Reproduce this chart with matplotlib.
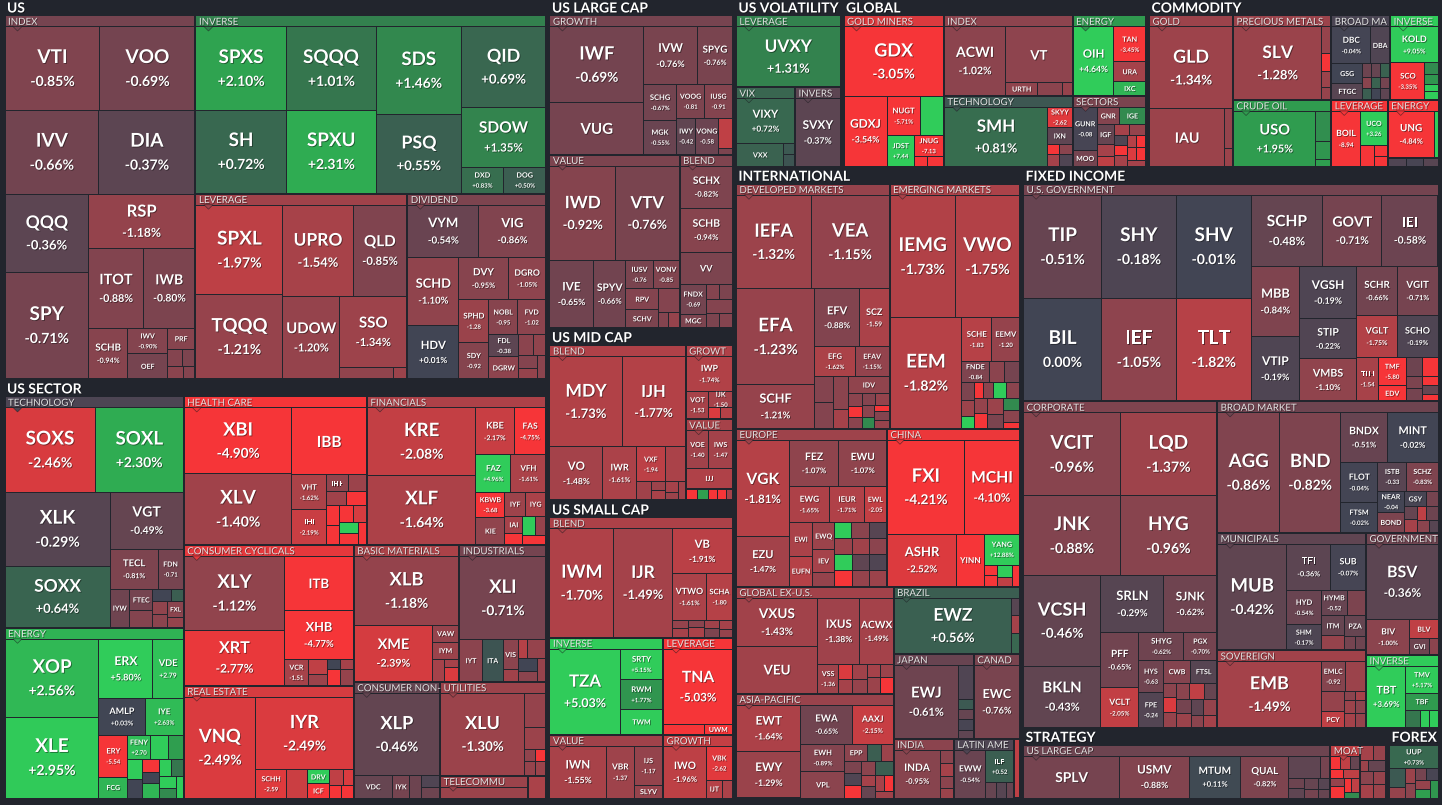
import math
import matplotlib
matplotlib.use("Agg")
import matplotlib.pyplot as plt
from matplotlib.patches import Rectangle, Polygon
import matplotlib.patheffects as pe

# (ticker, size, % change) -- size (k px^2)
US_INDEX = [("VTI", 7.9, -0.85), ("VOO", 7.9, -0.69), ("IVV", 7.9, -0.66), ("DIA", 8.1, -0.37),
            ("QQQ", 6.5, -0.36), ("SPY", 8.9, -0.71), ("RSP", 5.8, -1.18), ("ITOT", 4.4, -0.88),
            ("IWB", 4.1, -0.80), ("SCHB", 2.0, -0.94), ("IWV", 1.0, -0.90), ("OEF", 1.0, -0.72),
            ("PRF", 0.57, -0.95), ("", 0.25, -0.9), ("", 0.22, -0.8), ("", 0.2, -1.0), ("", 0.15, -0.9)]
US_INVERSE = [("SPXS", 7.5, 2.10), ("SH", 7.5, 0.72), ("SQQQ", 7.5, 1.01), ("SPXU", 7.5, 2.31),
              ("SDS", 7.4, 1.46), ("PSQ", 6.7, 0.55), ("QID", 6.8, 0.69), ("SDOW", 5.1, 1.35),
              ("DXD", 1.1, 0.83), ("DOG", 1.1, 0.50)]
US_LEVERAGE = [("SPXL", 7.8, -1.97), ("TQQQ", 7.3, -1.21), ("UPRO", 6.4, -1.54), ("QLD", 4.9, -0.85),
               ("UDOW", 4.7, -1.20), ("SSO", 4.8, -1.34), ("", 0.6, -1.1), ("", 0.15, -1.3)]
US_DIVIDEND = [("VYM", 3.7, -0.54), ("VIG", 3.5, -0.86), ("SCHD", 3.5, -1.10), ("HDV", 2.7, 0.01),
               ("DVY", 2.1, -0.95), ("DGRO", 1.6, -1.05), ("SPHD", 1.3, -1.28), ("SDY", 1.1, -0.92),
               ("NOBL", 1.0, -0.95), ("FVD", 1.0, -1.02), ("FDL", 0.66, -0.38), ("DGRW", 0.66, -1.05),
               ("", 0.3, -1.0), ("", 0.25, -1.1), ("", 0.25, -0.9), ("", 0.2, -1.2), ("", 0.2, -1.0)]

SECTOR_TECH = [("SOXS", 7.6, -2.46), ("SOXL", 7.4, 2.30), ("XLK", 7.8, -0.29), ("SOXX", 6.4, 0.64),
               ("VGT", 4.2, -0.49), ("TECL", 1.9, -0.81), ("FDN", 1.0, -0.71), ("IYW", 0.75, -0.62),
               ("FTEC", 0.5, -0.70), ("", 0.38, -0.9), ("", 0.23, 0.0), ("", 0.14, 0.5), ("", 0.2, -1.1),
               ("", 0.2, -1.0), ("FXL", 0.25, -1.0), ("", 0.15, -1.2)]
SECTOR_ENERGY = [("XOP", 7.3, 2.56), ("XLE", 7.6, 2.95), ("ERX", 3.2, 5.80), ("VDE", 1.8, 2.79),
                 ("AMLP", 1.7, 0.03), ("IYE", 1.4, 2.63), ("ERY", 1.2, -5.54), ("FCG", 0.6, 2.5),
                 ("FENY", 0.55, 2.70), ("", 0.43, 3.0), ("", 0.36, 2.0), ("", 0.3, 3.0), ("", 0.27, 0.0),
                 ("", 0.23, -3.0), ("", 0.2, 0.0), ("", 0.25, 2.5), ("", 0.2, 3.0), ("", 0.2, 1.0),
                 ("", 0.2, 3.0), ("", 0.15, 1.5), ("", 0.15, 3.0)]
SECTOR_HEALTH = [("XBI", 7.1, -4.90), ("XLV", 7.6, -1.40), ("IBB", 5.0, -4.2), ("VHT", 1.2, -1.62),
                 ("IHI", 1.2, -2.19), ("IHF", 0.36, -1.1), ("", 0.3, -1.3), ("", 0.28, -1.4),
                 ("", 0.28, -3.5), ("", 0.26, -3.2), ("", 0.25, -3.6), ("", 0.25, -3.0), ("", 0.22, -2.4),
                 ("", 0.2, 3.0), ("", 0.2, -3.3), ("", 0.18, -3.8)]
SECTOR_FIN = [("KRE", 7.3, -2.08), ("XLF", 7.5, -1.64), ("KBE", 1.8, -2.17), ("FAS", 1.5, -4.75),
              ("FAZ", 1.3, 4.96), ("VFH", 1.3, -1.61), ("KBWB", 0.75, -3.68), ("KIE", 0.78, -1.10),
              ("IYF", 0.5, -1.35), ("IYG", 0.5, -1.6), ("IAI", 0.3, -1.5), ("", 0.2, -3.0),
              ("", 0.25, 4.0), ("", 0.2, -1.2), ("", 0.2, -3.0)]
SECTOR_CYCL = [("XLY", 7.4, -1.12), ("XRT", 5.5, -2.77), ("ITB", 3.7, -4.3), ("XHB", 3.4, -4.77),
               ("VCR", 0.6, -1.51), ("", 0.3, -2.0), ("", 0.2, -1.3), ("", 0.12, 0.0), ("", 0.12, -1.5),
               ("", 0.2, -3.0), ("", 0.2, -1.2)]
SECTOR_REIT = [("VNQ", 7.2, -2.49), ("IYR", 7.1, -2.49), ("SCHH", 0.87, -2.59), ("", 0.59, -2.2),
               ("DRV", 0.3, 3.0), ("ICF", 0.3, -3.0), ("", 0.22, -2.0), ("", 0.15, -2.5),
               ("", 0.16, -3.0), ("", 0.15, -3.0)]
SECTOR_MATER = [("XLB", 7.2, -1.18), ("XME", 4.4, -2.39), ("VAW", 0.45, -1.2), ("IYM", 0.45, -1.3),
                ("FXZ", 0.27, -1.5), ("", 0.12, -1.5), ("", 0.2, -2.5)]
SECTOR_INDU = [("XLI", 7.2, -0.71), ("IYT", 0.92, -1.0), ("ITA", 0.88, 0.3), ("VIS", 0.43, -1.0),
               ("", 0.18, -1.4), ("", 0.18, -1.8), ("", 0.34, -1.2), ("", 0.24, 0.0), ("", 0.2, -1.0),
               ("", 0.2, -1.2)]
SECTOR_STAPLES = [("XLP", 7.0, -0.46), ("VDC", 0.84, -0.5), ("IYK", 0.4, -0.7), ("", 0.26, -0.6),
                  ("", 0.22, -0.2), ("", 0.18, -0.6)]
SECTOR_UTIL = [("XLU", 6.9, -1.30), ("", 0.75, -1.2), ("", 0.46, -1.3), ("", 0.14, -1.1),
               ("", 0.14, -3.0), ("", 0.15, -1.2), ("", 0.14, -1.3)]
SECTOR_TELECOM = [("", 0.5, -1.3)]
SECTOR_OTHER = [("", 0.38, -1.6)]

LC_GROWTH = [("IWF", 7.1, -0.69), ("VUG", 4.8, -0.72), ("IVW", 3.1, -0.76), ("SPYG", 2.0, -0.76),
             ("SCHG", 1.2, -0.67), ("MGK", 1.1, -0.55), ("VOOG", 0.95, -0.81), ("IUSG", 0.95, -0.91),
             ("IWY", 0.68, -0.42), ("VONG", 0.8, -0.58), ("RPG", 0.43, -2.0), ("", 0.08, -0.8)]
LC_VALUE = [("IWD", 6.2, -0.92), ("VTV", 6.0, -0.76), ("IVE", 2.9, -0.65), ("SPYV", 2.2, -0.66),
            ("IUSV", 0.76, -0.76), ("VONV", 0.73, -0.85), ("RPV", 0.7, -0.9), ("SCHV", 0.58, -0.8),
            ("", 0.5, -0.9), ("", 0.15, -0.9), ("", 0.15, -1.2)]
LC_BLEND = [("SCHX", 2.2, -0.82), ("SCHB", 2.3, -0.94), ("VV", 1.7, -0.8), ("FNDX", 0.78, -0.69),
            ("MGC", 0.36, -0.8), ("", 0.2, -0.9), ("", 0.2, -0.8), ("", 0.36, -0.9), ("", 0.18, -0.8),
            ("", 0.18, -0.9)]

MC_BLEND = [("MDY", 6.5, -1.73), ("IJH", 5.7, -1.77), ("VO", 2.8, -1.48), ("IWR", 1.8, -1.61),
            ("VXF", 1.0, -1.94), ("", 0.7, -1.6), ("", 0.27, -1.4), ("", 0.13, -1.3), ("", 0.13, -1.6),
            ("", 0.13, -1.5), ("", 0.1, -1.3), ("", 0.12, -1.4)]
MC_GROWTH = [("IWP", 1.6, -1.74), ("VOT", 0.62, -1.53), ("IJK", 0.39, -1.5), ("", 0.13, -2.5),
             ("", 0.13, -1.8)]
MC_VALUE = [("VOE", 0.86, -1.40), ("IWS", 0.9, -1.47), ("IJJ", 0.9, -1.7)]
MC_OTHER = [("", 0.12, -3.0), ("", 0.12, 2.0), ("", 0.1, -3.0), ("", 0.1, -3.0), ("", 0.06, -1.5)]

SC_BLEND = [("IWM", 6.9, -1.70), ("IJR", 6.3, -1.49), ("VB", 2.7, -1.91), ("VTWO", 1.6, -1.61),
            ("SCHA", 1.2, -1.80), ("", 0.13, -1.2), ("", 0.14, -1.5), ("", 0.13, -1.0), ("", 0.15, -1.6),
            ("", 0.13, -1.4), ("", 0.12, -0.8), ("", 0.12, -1.5), ("", 0.1, -1.2)]
SC_INVERSE = [("TZA", 6.0, 5.03), ("SRTY", 1.3, 5.15), ("RWM", 1.26, 1.77), ("TWM", 1.05, 4.0)]
SC_VALUE = [("IWN", 2.9, -1.55), ("VBR", 1.46, -1.37), ("IJS", 1.1, -1.17), ("SLYV", 0.36, -1.2)]
SC_LEVERAGE = [("TNA", 5.2, -5.03), ("", 0.4, -3.5), ("UWM", 0.28, -3.0)]
SC_GROWTH = [("IWO", 2.2, -1.96), ("VBK", 0.88, -2.62), ("IJT", 0.29, -1.8), ("", 0.18, -1.6)]

VOL_LEVERAGE = [("UVXY", 6.2, 1.31)]
VOL_VIX = [("VIXY", 2.6, 0.72), ("VXX", 1.08, 0.6), ("", 0.12, 0.4), ("", 0.12, 0.3)]
VOL_INVERSE = [("SVXY", 3.0, -0.37)]

GL_GOLDMINERS = [("GDX", 6.9, -3.05), ("GDXJ", 3.0, -3.54), ("NUGT", 1.3, -5.71), ("", 0.9, 4.0),
                 ("JDST", 0.84, 7.44), ("JNUG", 0.6, -7.13), ("", 0.13, -3.5), ("", 0.16, -4.0)]
GL_INDEX = [("ACWI", 4.2, -1.02), ("VT", 3.7, -1.05), ("URTH", 0.4, -1.1), ("", 0.31, -1.0),
            ("", 0.12, -1.2)]
GL_TECH = [("SMH", 6.1, 0.81), ("SKYY", 0.48, -2.62), ("IXN", 0.43, -0.4), ("", 0.12, -3.0),
           ("", 0.14, -1.5), ("", 0.12, -1.0), ("", 0.14, -0.2)]
GL_ENERGY = [("OIH", 2.8, 4.64), ("TAN", 1.1, -3.45), ("URA", 0.63, -1.5), ("IXC", 0.43, 2.5)]
GL_SECTORS = [("GUNR", 1.05, -0.08), ("MOO", 0.38, -0.7), ("GNR", 0.38, -0.9), ("IGE", 0.45, 1.5),
              ("IGF", 0.34, -0.5), ("", 0.19, -1.5), ("", 0.17, -2.0), ("", 0.17, -1.5), ("", 0.17, -1.2),
              ("", 0.14, -0.2), ("", 0.14, -3.0), ("", 0.14, -1.5), ("", 0.11, -1.8), ("", 0.11, -3.0),
              ("", 0.11, -2.5), ("", 0.11, -3.5), ("", 0.11, -1.5)]

CM_GOLD = [("GLD", 6.8, -1.34), ("IAU", 4.3, -1.3), ("", 0.32, -1.2), ("", 0.14, -1.3)]
CM_PRECIOUS = [("SLV", 6.4, -1.28), ("", 0.24, -1.2), ("", 0.16, -3.0), ("", 0.14, -1.3), ("", 0.11, -1.2)]
CM_CRUDE = [("USO", 4.5, 1.95), ("", 0.45, 1.6), ("", 0.27, 1.8), ("", 0.1, 2.0)]
CM_BROAD = [("DBC", 1.44, -0.04), ("DBA", 0.7, -0.2), ("GSG", 0.6, 0.0), ("FTGC", 0.5, -0.3),
            ("", 0.12, -0.6), ("", 0.12, -0.5), ("", 0.12, 0.6), ("", 0.1, -1.0), ("", 0.1, 0.5),
            ("", 0.1, 0.6), ("", 0.1, -0.7), ("", 0.1, 0.0), ("", 0.1, -0.4)]
CM_INVERSE = [("KOLD", 1.7, 9.05), ("SCO", 1.25, -3.35), ("", 0.15, 1.5), ("", 0.13, 1.8),
              ("", 0.1, 3.0), ("", 0.1, 3.0)]
CM_LEVERAGE = [("BOIL", 1.57, -8.94), ("UCO", 0.92, 3.26), ("", 0.28, -3.0), ("", 0.14, -3.5),
               ("", 0.13, -4.0)]
CM_ENERGY = [("UNG", 2.1, -4.84), ("", 0.18, 3.0)]
CM_OTHER = [("", 0.15, -0.2), ("", 0.13, -0.1), ("", 0.12, -0.3)]

IN_DEVELOPED = [("IEFA", 7.0, -1.32), ("VEA", 7.3, -1.15), ("EFA", 7.5, -1.23), ("SCHF", 3.4, -1.21),
                ("EFV", 2.6, -0.88), ("SCZ", 1.7, -1.59), ("EFG", 1.2, -1.62), ("EFAV", 1.0, -1.15),
                ("", 0.5, -0.9), ("", 0.5, -0.9), ("", 0.5, -1.0), ("", 0.28, -1.5), ("IDV", 0.7, -1.1),
                ("", 0.18, -1.0), ("", 0.15, -3.0), ("", 0.15, -1.0), ("", 0.15, -0.9), ("", 0.15, -1.2),
                ("", 0.15, -1.0), ("", 0.12, 1.5), ("", 0.1, -3.0), ("", 0.12, -0.9), ("", 0.12, -1.2)]
IN_EMERGING = [("IEMG", 8.0, -1.73), ("VWO", 7.9, -1.75), ("EEM", 7.9, -1.82), ("SCHE", 1.3, -1.83),
               ("EEMV", 1.2, -1.20), ("FNDE", 0.6, -0.84), ("", 0.33, -1.0), ("", 0.33, -0.7),
               ("", 0.22, -0.8), ("", 0.2, -1.3), ("", 0.15, 3.0), ("", 0.15, -3.0), ("", 0.15, -1.0),
               ("", 0.22, 3.0), ("", 0.2, -1.0), ("", 0.2, -1.2), ("", 0.2, -3.0), ("", 0.25, -1.3),
               ("", 0.22, -0.8), ("", 0.2, 1.5), ("", 0.18, -1.0), ("", 0.1, -3.0)]
IN_EUROPE = [("VGK", 5.1, -1.81), ("EZU", 2.6, -1.47), ("FEZ", 2.3, -1.07), ("EWU", 2.2, -1.07),
             ("EWG", 1.45, -1.65), ("IEUR", 1.25, -1.71), ("EWL", 0.8, -2.05), ("EWI", 0.8, -1.6),
             ("EUFN", 0.72, -1.8), ("EWQ", 0.58, -1.3), ("IEV", 0.48, -1.5), ("", 0.3, -1.2),
             ("", 0.29, 3.0), ("", 0.29, -1.0), ("", 0.28, -0.3), ("", 0.28, -1.3), ("", 0.28, 3.0),
             ("", 0.28, -3.0), ("", 0.28, -1.4), ("", 0.27, -1.0), ("", 0.27, -0.4), ("", 0.27, -1.2),
             ("", 0.27, -0.2), ("", 0.27, -1.3)]
IN_CHINA = [("FXI", 7.2, -4.21), ("MCHI", 5.2, -4.10), ("ASHR", 3.6, -2.52), ("YINN", 1.45, -4.5),
            ("YANG", 1.1, 12.88), ("", 0.14, -3.0), ("", 0.15, -3.5), ("", 0.18, 3.0), ("", 0.13, -2.0),
            ("", 0.15, -3.5)]
IN_GLOBALX = [("VXUS", 3.9, -1.43), ("VEU", 3.8, -1.4), ("IXUS", 2.8, -1.38), ("ACWX", 2.2, -1.49),
              ("VSS", 0.6, -1.36), ("", 0.21, -2.5), ("", 0.18, -1.5), ("", 0.22, -1.4), ("", 0.2, -1.2),
              ("", 0.18, -1.5), ("", 0.16, -1.3), ("", 0.2, -1.3), ("", 0.2, -3.0)]
IN_ASIAPAC = [("EWT", 3.0, -1.64), ("EWY", 3.0, -1.29), ("EWA", 2.0, -0.65), ("AAXJ", 1.6, -2.15),
              ("EWH", 1.2, -0.89), ("VPL", 1.16, -1.0), ("EPP", 0.39, -1.0), ("", 0.24, 0.5),
              ("", 0.2, -1.3), ("", 0.2, -0.8), ("", 0.2, -0.2), ("", 0.2, -4.0), ("", 0.2, -1.0),
              ("", 0.26, 0.5), ("", 0.16, -1.5), ("", 0.16, -0.5), ("", 0.14, -1.5), ("", 0.13, -4.0),
              ("", 0.12, -1.4)]
IN_BRAZIL = [("EWZ", 6.5, 0.56), ("", 0.14, -0.3), ("", 0.14, -1.5), ("", 0.16, 0.7)]
IN_JAPAN = [("EWJ", 4.7, -0.61), ("", 0.5, -0.2), ("", 0.15, 0.4), ("", 0.15, -0.5), ("", 0.15, -0.1),
            ("", 0.12, -0.4)]
IN_CANADA = [("EWC", 3.3, -0.76)]
IN_INDIA = [("INDA", 2.2, -0.95), ("", 0.18, -1.0), ("", 0.16, -1.5), ("", 0.16, -1.0), ("", 0.13, -1.3)]
IN_LATAM = [("EWW", 1.5, -0.54), ("ILF", 0.9, 0.52), ("", 0.16, -0.5), ("", 0.16, -0.3), ("", 0.1, -0.5)]
IN_OTHER = [("", 0.3, -2.0)]

FI_USGOV = [("TIP", 8.0, -0.51), ("BIL", 8.0, 0.00), ("SHY", 7.7, -0.18), ("IEF", 7.7, -1.05),
            ("SHV", 7.7, -0.01), ("TLT", 7.7, -1.82), ("SCHP", 5.1, -0.48), ("GOVT", 4.2, -0.71),
            ("IEI", 4.0, -0.58), ("MBB", 3.4, -0.84), ("VTIP", 3.1, -0.19), ("VGSH", 3.0, -0.19),
            ("STIP", 2.3, -0.22), ("VMBS", 2.4, -1.10), ("SCHR", 2.0, -0.66), ("VGIT", 2.0, -0.71),
            ("VGLT", 1.7, -1.75), ("SCHO", 1.7, -0.19), ("TLH", 0.95, -1.54), ("TMF", 0.78, -5.80),
            ("EDV", 0.42, -3.0), ("", 0.3, -0.6), ("", 0.3, -3.5), ("", 0.2, -0.8), ("", 0.2, -0.7),
            ("", 0.14, -4.0), ("", 0.15, -0.5), ("", 0.1, -3.0)]
FI_CORP = [("VCIT", 8.0, -0.96), ("LQD", 8.0, -1.37), ("JNK", 7.7, -0.88), ("HYG", 7.7, -0.96),
           ("VCSH", 7.0, -0.46), ("BKLN", 4.7, -0.43), ("SRLN", 3.6, -0.29), ("SJNK", 3.0, -0.62),
           ("PFF", 2.1, -0.65), ("VCLT", 1.5, -2.05), ("SHYG", 1.25, -0.62), ("PGX", 0.9, -0.70),
           ("HYS", 0.8, -0.63), ("FPE", 0.85, -0.24), ("CWB", 0.64, -0.9), ("FTSL", 0.6, -0.3),
           ("", 0.2, -1.0), ("", 0.2, -2.5), ("", 0.2, -1.2), ("", 0.2, -1.0), ("", 0.25, -2.0),
           ("", 0.2, -0.5), ("", 0.2, -0.7), ("", 0.2, -1.3), ("", 0.2, -0.4), ("", 0.2, -1.2),
           ("", 0.15, -1.0), ("", 0.15, -1.5)]
FI_BROAD = [("AGG", 7.4, -0.86), ("BND", 7.3, -0.82), ("BNDX", 2.3, -0.51), ("MINT", 2.5, -0.02),
            ("FLOT", 1.5, -0.04), ("FTSM", 1.1, -0.02), ("ISTB", 0.84, -0.33), ("SCHZ", 0.9, -0.83),
            ("NEAR", 0.57, -0.04), ("BOND", 0.52, -0.8), ("GSY", 0.35, -0.1), ("", 0.18, -0.7),
            ("", 0.17, -0.5), ("", 0.17, -1.5), ("", 0.12, -2.0), ("", 0.15, -0.6), ("", 0.15, -1.0),
            ("", 0.1, -0.3)]
FI_MUNI = [("MUB", 7.3, -0.42), ("TFI", 2.0, -0.36), ("SUB", 1.6, -0.07), ("HYD", 1.2, -0.54),
           ("SHM", 0.85, -0.17), ("HYMB", 0.68, -0.52), ("", 0.47, -0.8), ("ITM", 0.47, -0.5),
           ("", 0.33, -1.2), ("PZA", 0.42, -0.5), ("", 0.15, -0.7), ("", 0.13, -0.6)]
FI_SOV = [("EMB", 6.8, -1.49), ("EMLC", 0.7, -0.92), ("", 0.6, -1.3), ("", 0.48, -1.2), ("PCY", 0.36, -2.0),
          ("", 0.1, -1.0), ("", 0.1, -1.5), ("", 0.13, -1.3), ("", 0.13, -1.0), ("", 0.15, -1.5),
          ("", 0.15, -1.2)]
FI_GOV = [("BSV", 5.4, -0.36), ("BIV", 1.5, -1.00), ("BLV", 0.53, -2.0), ("GVI", 0.32, -0.6), ("", 0.13, -1.0)]
FI_INVERSE = [("TBT", 2.4, 3.69), ("TMV", 0.86, 5.17), ("TBF", 0.54, 1.9), ("", 0.25, 1.0),
              ("", 0.15, 3.0), ("", 0.15, 3.0)]

ST_LARGECAP = [("SPLV", 4.0, -0.72), ("USMV", 2.9, -0.88), ("MTUM", 2.15, 0.11), ("QUAL", 2.0, -0.82),
               ("", 0.7, -0.4), ("", 0.22, -0.7), ("", 0.15, -0.6), ("", 0.15, -0.4), ("", 0.15, -0.5),
               ("", 0.12, -0.7), ("", 0.12, -0.3), ("", 0.1, -0.5)]
ST_MOAT = [("", 0.12, -3.0), ("", 0.13, -2.0), ("", 0.11, -0.5), ("", 0.13, -3.0), ("", 0.15, -2.0),
           ("", 0.11, -1.2), ("", 0.15, -3.0), ("", 0.1, -3.5), ("", 0.1, -2.0), ("", 0.08, 1.5)]
ST_OTHER = [("", 0.2, -1.5), ("", 0.18, -1.2), ("", 0.09, -1.3), ("", 0.19, -0.5), ("", 0.17, -1.0),
            ("", 0.16, -1.2), ("", 0.18, -1.5), ("", 0.17, -1.3)]

FX_ALL = [("UUP", 1.14, 0.73), ("", 0.3, 0.4), ("", 0.16, -1.2), ("", 0.15, -1.3), ("", 0.15, -1.0),
          ("", 0.13, -0.7), ("", 0.13, -0.1), ("", 0.13, -1.2), ("", 0.13, 2.0), ("", 0.13, 1.8)]

SECTIONS = [
    ("US", [("INDEX", US_INDEX), ("INVERSE", US_INVERSE), ("LEVERAGE", US_LEVERAGE),
            ("DIVIDEND", US_DIVIDEND)]),
    ("US SECTOR", [("TECHNOLOGY", SECTOR_TECH), ("ENERGY", SECTOR_ENERGY), ("HEALTH CARE", SECTOR_HEALTH),
                   ("FINANCIALS", SECTOR_FIN), ("CONSUMER CYCLICALS", SECTOR_CYCL),
                   ("REAL ESTATE", SECTOR_REIT), ("BASIC MATERIALS", SECTOR_MATER),
                   ("INDUSTRIALS", SECTOR_INDU), ("CONSUMER NON-", SECTOR_STAPLES),
                   ("UTILITIES", SECTOR_UTIL), ("TELECOMMU", SECTOR_TELECOM), ("", SECTOR_OTHER)]),
    ("US LARGE CAP", [("GROWTH", LC_GROWTH), ("VALUE", LC_VALUE), ("BLEND", LC_BLEND)]),
    ("US MID CAP", [("BLEND", MC_BLEND), ("GROWT", MC_GROWTH), ("VALUE", MC_VALUE), ("", MC_OTHER)]),
    ("US SMALL CAP", [("BLEND", SC_BLEND), ("INVERSE", SC_INVERSE), ("VALUE", SC_VALUE),
                      ("LEVERAGE", SC_LEVERAGE), ("GROWTH", SC_GROWTH)]),
    ("US VOLATILITY", [("LEVERAGE", VOL_LEVERAGE), ("VIX", VOL_VIX), ("INVERS", VOL_INVERSE)]),
    ("GLOBAL", [("GOLD MINERS", GL_GOLDMINERS), ("INDEX", GL_INDEX), ("TECHNOLOGY", GL_TECH),
                ("ENERGY", GL_ENERGY), ("SECTORS", GL_SECTORS)]),
    ("COMMODITY", [("GOLD", CM_GOLD), ("PRECIOUS METALS", CM_PRECIOUS), ("CRUDE OIL", CM_CRUDE),
                   ("BROAD MA", CM_BROAD), ("INVERSE", CM_INVERSE), ("LEVERAGE", CM_LEVERAGE),
                   ("ENERGY", CM_ENERGY), ("", CM_OTHER)]),
    ("INTERNATIONAL", [("DEVELOPED MARKETS", IN_DEVELOPED), ("EMERGING MARKETS", IN_EMERGING),
                       ("EUROPE", IN_EUROPE), ("CHINA", IN_CHINA), ("GLOBAL EX-U.S.", IN_GLOBALX),
                       ("ASIA-PACIFIC", IN_ASIAPAC), ("BRAZIL", IN_BRAZIL), ("JAPAN", IN_JAPAN),
                       ("CANAD", IN_CANADA), ("INDIA", IN_INDIA), ("LATIN AME", IN_LATAM), ("", IN_OTHER)]),
    ("FIXED INCOME", [("U.S. GOVERNMENT", FI_USGOV), ("CORPORATE", FI_CORP), ("BROAD MARKET", FI_BROAD),
                      ("MUNICIPALS", FI_MUNI), ("SOVEREIGN", FI_SOV), ("GOVERNMENT", FI_GOV),
                      ("INVERSE", FI_INVERSE)]),
    ("STRATEGY", [("US LARGE CAP", ST_LARGECAP), ("MOAT", ST_MOAT), ("", ST_OTHER)]),
    ("FOREX", [("", FX_ALL)]),
]

# tickers that show only the symbol, no % change
LABEL_ONLY = {"VUG", "IBB", "ITB", "IAU", "VT", "VEU", "SPLV", "OEF", "PRF", "RPV", "SCHV", "VV", "MGC",
              "IJJ", "TWM", "UWM", "SLYV", "IJT", "URTH", "IXN", "DBA", "GSG", "FTGC", "IGE", "IGF", "MOO",
              "GNR", "URA", "IXC", "VXX", "EWI", "EUFN", "YINN", "VPL", "EPP", "IDV", "EWQ", "IEV", "CWB",
              "FTSL", "ITM", "PZA", "BLV", "GVI", "TBF", "PCY", "GSY", "BOND", "KIE", "IYF", "IYG", "IAI",
              "IHF", "IYW", "FTEC", "FXL", "FCG", "VAW", "IYM", "FXZ", "IYT", "ITA", "VIS", "VDC", "IYK",
              "ICF", "DRV", "DGRW", "RPG", "EDV"}

FONT = ["Lato", "DejaVu Sans"]
BG = "#22252d"
W, H = 1442, 805
CANVAS = (4, 1, 1441, 801)
TITLE_H = 15
HEAD_H = 11

STOPS = [(-3, "#f63538"), (-2, "#bf4045"), (-1, "#8b444e"), (0, "#414554"),
         (1, "#35764e"), (2, "#2f9e4f"), (3, "#30cc5a")]
STOP_RGB = [(v, tuple(int(c[i:i + 2], 16) / 255 for i in (1, 3, 5))) for v, c in STOPS]


def color(chg):
    c = max(-3.0, min(3.0, chg))
    for (v0, c0), (v1, c1) in zip(STOP_RGB[:-1], STOP_RGB[1:]):
        if c <= v1:
            t = (c - v0) / (v1 - v0)
            return tuple(a + (b - a) * t for a, b in zip(c0, c1))
    return STOP_RGB[-1][1]


def squarify(vals, x0, y0, x1, y1):
    # d3.treemapSquarify with ratio 1, children kept in the given order
    n = len(vals)
    rects = [(x0, y0, x0, y0)] * n
    total = float(sum(vals))
    i0 = 0
    while i0 < n:
        dx, dy = max(x1 - x0, 1e-6), max(y1 - y0, 1e-6)
        s = vals[i0]
        i1 = i0 + 1
        mn = mx = s
        alpha = max(dy / dx, dx / dy) / total
        beta = s * s * alpha
        best = max(mx / beta, beta / mn)
        while i1 < n:
            v = vals[i1]
            s2 = s + v
            mn2, mx2 = min(mn, v), max(mx, v)
            beta = s2 * s2 * alpha
            r = max(mx2 / beta, beta / mn2)
            if r > best:
                break
            s, mn, mx, best = s2, mn2, mx2, r
            i1 += 1
        frac = s / total if total > 0 else 1
        if dx < dy:
            h = dy * frac
            xx = x0
            for k in range(i0, i1):
                w = dx * vals[k] / s
                rects[k] = (xx, y0, xx + w, y0 + h)
                xx += w
            y0 += h
        else:
            w = dx * frac
            yy = y0
            for k in range(i0, i1):
                h = dy * vals[k] / s
                rects[k] = (x0, yy, x0 + w, yy + h)
                yy += h
            x0 += w
        total -= s
        i0 = i1
    return rects


def inner_sec(r):
    return (r[0] + 1, r[1] + TITLE_H, r[2] - 2, r[3] - 2)


def content_grp(r, name):
    top = r[1] + HEAD_H if name else r[1]
    return (r[0], top, r[2] - 1, max(r[3] - 1, top + 0.5))


def area(r):
    return max(r[2] - r[0], 0.01) * max(r[3] - r[1], 0.01)


# sizes of groups/sections are corrected for header bands so leaves keep their areas
leaf_sum = [[sum(l[1] for l in g[1]) for g in s[1]] for s in SECTIONS]
f_sec = [1.0] * len(SECTIONS)
f_grp = [[1.0] * len(s[1]) for s in SECTIONS]
for _ in range(12):
    gv = [[leaf_sum[i][j] * f_grp[i][j] for j in range(len(s[1]))] for i, s in enumerate(SECTIONS)]
    sv = [sum(gv[i]) * f_sec[i] for i in range(len(SECTIONS))]
    srects = squarify(sv, *CANVAS)
    grects = []
    for i, sr in enumerate(srects):
        inn = inner_sec(sr)
        f_sec[i] = area(sr) / area(inn)
        gr = squarify(gv[i], *inn)
        grects.append(gr)
        for j, r in enumerate(gr):
            f_grp[i][j] = min(area(r) / area(content_grp(r, SECTIONS[i][1][j][0])), 4.0)

CW = {".": 0.27, "%": 0.85, "+": 0.6, "-": 0.38, "W": 0.95, "M": 0.88, "I": 0.3, "J": 0.45}


def text_w(s):
    return sum(CW.get(ch, 0.58 if ch.isdigit() else 0.66) for ch in s)


SHADOW = [pe.withSimplePatchShadow(offset=(0.6, -0.6), shadow_rgbFace="black", alpha=0.45)]

fig = plt.figure(figsize=(W / 100, H / 100), dpi=100, facecolor=BG)
ax = fig.add_axes([0, 0, 1, 1])
ax.set_xlim(0, W)
ax.set_ylim(H, 0)
ax.axis("off")
ax.set_facecolor(BG)


def draw_leaf(tk, chg, r):
    x0, y0, x1, y1 = r
    w, h = x1 - x0, y1 - y0
    if w <= 0.5 or h <= 0.5:
        return
    ax.add_patch(Rectangle((x0 + 0.5, y0 + 0.5), w - 1, h - 1, facecolor=color(chg),
                           edgecolor="none", linewidth=0))
    if not tk:
        return
    fs = max(7.0, min(19.0, math.sqrt(w * h) / 4.6))
    fs = min(fs, (w - 3) / text_w(tk), h - 3)
    if fs < 6.0:
        return
    cx, cy = x0 + w / 2, y0 + h / 2
    show = tk not in LABEL_ONLY
    if show:
        if chg == 0:
            txt = "0.00%"
        else:
            txt = f"{chg:+.2f}%" if w >= 31 else f"{chg:+.2f}"
        fc = max(6.0, min(fs * 0.74, 14.0))
        fc = min(fc, (w - 2) / text_w(txt))
        show = fc >= 5.3 and h >= 0.9 * fs + 0.9 * fc + 3
    if show:
        d = 0.72 * (fs + fc) + 1
        ax.text(cx, cy - d / 2 + 0.36 * fs, tk, fontsize=fs * 0.72, color="white", ha="center",
                va="baseline", family=FONT, fontweight="bold", path_effects=SHADOW)
        ax.text(cx, cy + d / 2 + 0.36 * fc, txt, fontsize=fc * 0.72, color="white", ha="center",
                va="baseline", family=FONT, fontweight="bold", path_effects=SHADOW)
    else:
        ax.text(cx, cy + 0.36 * fs, tk, fontsize=fs * 0.72, color="white", ha="center",
                va="baseline", family=FONT, fontweight="bold", path_effects=SHADOW)


for i, (sname, groups) in enumerate(SECTIONS):
    sr = srects[i]
    ax.text(sr[0] + 3, sr[1] + 7.5, sname, fontsize=10, color="white", fontweight="bold",
            ha="left", va="center", family=FONT, path_effects=SHADOW)
    for j, (gname, leaves) in enumerate(groups):
        gr = grects[i][j]
        cr = content_grp(gr, gname)
        lr = squarify([l[1] for l in leaves], *cr)
        for (tk, _, chg), r in zip(leaves, lr):
            draw_leaf(tk, chg, r)
        if gname:
            avg = sum(l[1] * l[2] for l in leaves) / sum(l[1] for l in leaves)
            hc = color(avg)
            hx0, hy0, hx1 = gr[0], gr[1], gr[2] - 1
            band = Rectangle((hx0 + 0.5, hy0 + 0.5), hx1 - hx0 - 1, HEAD_H - 1, facecolor=hc,
                             edgecolor="none")
            ax.add_patch(band)
            if cr[3] - cr[1] > 8:
                ax.add_patch(Polygon([(hx0 + 8, hy0 + HEAD_H - 0.5), (hx0 + 17, hy0 + HEAD_H - 0.5),
                                      (hx0 + 12.5, hy0 + HEAD_H + 4)], closed=True, facecolor=hc,
                                     edgecolor=(0.1, 0.1, 0.12, 0.6), linewidth=0.5))
            t = ax.text(hx0 + 3, hy0 + HEAD_H / 2 + 0.8, gname, fontsize=7, color="#e2e2e2",
                        ha="left", va="center", family=FONT, path_effects=SHADOW)
            t.set_clip_path(band)

fig.savefig("out.png", dpi=100, facecolor=BG)
